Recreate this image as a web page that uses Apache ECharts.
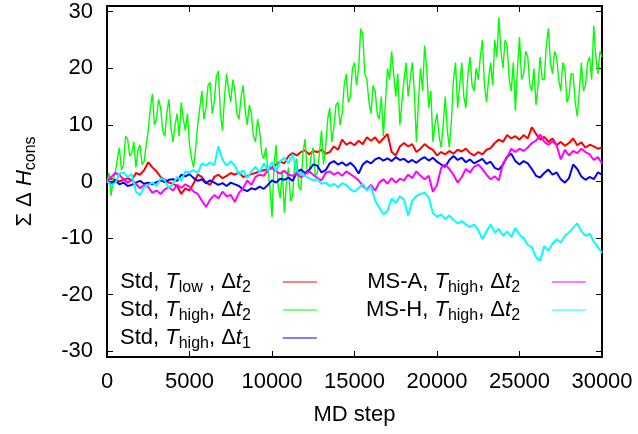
<!DOCTYPE html>
<html>
<head>
<meta charset="utf-8">
<script src="https://cdn.jsdelivr.net/npm/echarts@6/dist/echarts.min.js"></script>
<style>html,body{margin:0;padding:0;background:#fff;}#c{width:638px;height:434px;}</style>
</head>
<body>
<div id="c"></div>
<script>
// MD step grids
const steps = [];
for (let s = 0; s <= 30000; s += 250) steps.push(s);
const greenSteps = [];
for (let s = 0; s <= 30000; s += 125) greenSteps.push(s);

const xTicks = [0, 5000, 10000, 15000, 20000, 25000, 30000];
const yTicks = [-30, -20, -10, 0, 10, 20, 30];

// Std, T_low, dt2 (red)
const stdLow2 = [0,0.5,0.3,0,0.3,0.6,0.2,1.5,1.2,2,3.4,2.5,1.8,0.8,0.3,-0.2,-0.4,-0.8,-2.2,-1.2,-1.6,-0.3,1.2,0.8,-0.2,-0.6,0.8,1.2,0.6,1.0,1.5,1.2,1.6,0.8,1,1.3,1.5,1.8,2,2.2,2.5,3,3.5,3.2,4.5,5,4.6,5.2,5.5,4.8,5.4,5.2,5.6,4.9,5.2,6.2,5.6,7.4,6.5,6.9,6.4,7.2,6.6,7.8,7.2,7.8,6.8,7.6,8.4,5.2,4.6,6.2,6.8,6.2,6.6,5.2,5.8,6.6,6.0,5.6,4.6,5.2,4.8,5.4,4.9,5.6,5.3,5.8,5.0,4.6,5.2,4.8,5.6,5.9,6.8,7.4,7.0,8.2,7.6,8.0,7.4,8.2,7.6,9.6,8.4,7.4,7.9,7.0,7.6,6.4,7.0,6.3,6.8,7.6,6.4,6.9,6.0,6.5,6.2,5.8,6.0];

// Std, T_high, dt2 (green), every 125 steps
const stdHigh2 = [
  0,1.5,-2.5,0.5,1.5,4,6,2,3,8,7.5,4.5,5,7,2.5,5.5,6.5,3,3.5,6.5,9,
  13,15.5,10,11,14.5,13,9,8,12,14.5,9.5,7,10,12,8,14,11,9,12,6.5,
  4,2.5,6,10,13,16,11,13,17,17.5,12,14,18.5,19.5,12,9,15,19,16,14,
  18,16,12,11,15,17,12.5,10,13.5,12,8,7,11,9,5,4,6,2,-1,-6.3,
  3,6.5,-1,-3,2,-5.5,0,2.5,-3.5,-2.5,3,4,-1,-1.5,5,7.5,2,1.5,4.5,6,
  1,1.5,5,9,3,6,11,13,7,9.5,13.5,14,10,12,17,19,14,15,20,21,
  17,20,27,26,19,18,14,12,17,16,12,11,15,8,14,20,18,23,19,15,
  19,10,14,18,21,15,18,21,16,7,14,20,16,24,20,13,16,7,10,12,
  8,6,10,15,9,6,11,18,21,13,17,21,15,13,19,22,17,16,20,18,
  22,25,17,14,18,21,17,25,22,29,23,20,25,24,18,16,21,12.5,20,25.5,
  18,19,23,22,17,16,20,13.5,17,22,18,18,24,27,21,19,23,22,18,16,
  21,20,14,15,19,19,14,11.5,16,21,16,17,21,22,18,27.5,22,19,23,22
];

// Std, T_high, dt1 (blue)
const stdHigh1 = [0,-0.4,0.2,-0.5,-0.2,-0.8,-0.6,-0.2,0.1,-0.4,-0.2,-0.5,-0.1,0.2,-0.1,0.3,0.4,0.1,1.2,0.9,1.3,0.6,0.1,0.4,-0.3,0.2,-0.2,-0.6,-0.3,-0.8,-0.2,-0.5,-0.8,-1.4,-1.7,-1.2,-1.4,-0.9,-1.3,-0.6,0.2,-0.2,0.5,0.3,0.7,0.1,1.6,2.1,1.5,2.0,3.0,2.8,1.6,2.0,3.2,3.6,3.0,3.4,2.8,3.3,2.6,1.4,3.0,3.6,3.2,3.9,4.2,3.7,4.1,3.6,4.3,3.8,4.0,3.4,3.8,3.3,3.9,4.3,3.7,4.2,3.5,3.0,2.6,3.8,4.5,3.8,4.2,3.4,3.9,3.2,3.6,4.0,3.1,3.5,2.4,2.1,3.0,4.4,4.9,3.6,3.0,3.6,3.2,2.2,1.0,0.7,1.5,2.1,1.2,1.6,0.4,-0.2,0.6,3.0,2.2,0.9,0.3,0.8,0.4,1.6,1.2];

// MS-A, T_high, dt2 (magenta)
const msA = [0,0.8,1.5,1.2,0.4,-0.2,0.3,-0.4,-1.2,-0.6,-1.0,-2.0,-1.6,-2.2,-1.4,-1.0,-1.6,-0.6,-1.1,-0.5,-0.9,-1.8,-2.2,-3.4,-4.5,-3.2,-2.4,-3.0,-1.8,-2.6,-2.4,-3.6,-2.0,-1.2,0.2,-0.6,0.8,1.2,1.0,2.0,2.4,1.8,1.4,1.9,1.2,1.0,1.4,0.7,1.3,1.8,1.2,0.6,0.2,1.5,1.8,1.2,1.6,1.0,1.8,1.3,0.8,0.2,-0.8,-1.4,-0.6,-1.6,-0.2,0.4,-0.4,0.6,-0.2,0.5,0.2,1.2,0.6,1.8,1.0,0.4,1.0,-1.8,-0.6,2.4,3.0,2.2,1.2,-0.2,0.8,2.2,1.6,2.6,3.0,2.2,1.2,0.4,0.9,0.2,3.2,4.2,5.8,5.2,5.8,5.4,6.0,6.8,7.2,8.3,7.0,6.5,7.1,6.4,3.9,5.6,4.6,5.4,5.0,5.8,5.2,4.8,3.8,4.3,3.2];

// MS-H, T_high, dt2 (cyan)
const msH = [0,-0.6,-0.3,1.4,1.6,0.8,1.3,-1.8,-2.4,-1.0,-0.6,-0.2,-0.8,0.6,0.2,-1.2,-0.4,0.8,0.2,1.8,1.6,2.0,1.5,3.2,2.8,3.4,2.9,6.2,3.8,2.8,3.6,2.8,1.2,2.0,0.6,1.8,2.6,1.6,3.2,2.0,3.4,1.8,3.6,4.2,3.2,4.8,1.8,1.2,1.0,0.6,0.2,0.4,-0.4,-0.2,-0.8,-0.4,-1.0,-0.3,-0.6,-1.4,-1.8,-1.2,-0.4,-1.6,-0.8,-3.4,-4.6,-5.8,-5.2,-3.0,-3.8,-2.6,-3.2,-6.0,-3.4,-2.6,-2.2,-2.0,-2.8,-5.6,-6.2,-5.8,-6.6,-6.0,-6.8,-7.4,-7.0,-7.6,-8.0,-7.6,-8.6,-10.2,-8.8,-7.6,-9.0,-8.4,-9.6,-8.8,-9.8,-8.2,-9.4,-10.0,-11.2,-11.6,-13.4,-14.0,-11.4,-12.2,-11.0,-10.2,-10.8,-9.6,-9.0,-8.2,-7.4,-8.8,-9.6,-9.2,-10.6,-11.6,-12.6];

const FONT = 'Liberation Sans, Arial, Helvetica, sans-serif';
const rich = {
  n: { fontSize: 22, fontFamily: FONT, color: '#000', lineHeight: 28 },
  i: { fontSize: 22, fontFamily: FONT, color: '#000', fontStyle: 'italic', lineHeight: 28 },
  s: { fontSize: 16, fontFamily: FONT, color: '#000', lineHeight: 16, padding: [12, 0, 0, 0] }
};

const names = {
  low2: '{n|Std, }{i|T}{s|low}{n| , Δ}{i|t}{s|2}',
  high2: '{n|Std, }{i|T}{s|high}{n|, Δ}{i|t}{s|2}',
  high1: '{n|Std, }{i|T}{s|high}{n|, Δ}{i|t}{s|1}',
  msa: '{n|MS-A, }{i|T}{s|high}{n|, Δ}{i|t}{s|2}',
  msh: '{n|MS-H, }{i|T}{s|high}{n|, Δ}{i|t}{s|2}'
};

function pts(xs, vals) { return xs.map((s, k) => [s, vals[k]]); }

function mkSeries(name, xs, vals, color, w) {
  return {
    name: name, type: 'line', data: pts(xs, vals), showSymbol: false, symbol: 'none',
    lineStyle: { color: color, width: w }, itemStyle: { color: color },
    animation: false, silent: true
  };
}

const axisLineStyle = { show: true, onZero: false, lineStyle: { color: '#000', width: 2 } };
const tickStyle = { show: true, inside: true, length: 6, lineStyle: { color: '#000', width: 1 } };

const chart = echarts.init(document.getElementById('c'), null, { renderer: 'canvas' });
chart.setOption({
  backgroundColor: '#fff',
  animation: false,
  grid: { left: 107, right: 36, top: 6, bottom: 77, containLabel: false },
  xAxis: [{
    type: 'value', min: xTicks[0], max: xTicks[xTicks.length - 1], interval: 5000, position: 'bottom',
    axisLine: axisLineStyle, axisTick: tickStyle, splitLine: { show: false },
    axisLabel: { fontSize: 22, fontFamily: FONT, color: '#000', margin: 14, formatter: v => String(v) },
    name: 'MD step', nameLocation: 'middle', nameGap: 47,
    nameTextStyle: { fontSize: 22, fontFamily: FONT, color: '#000' }
  }, {
    type: 'value', min: xTicks[0], max: xTicks[xTicks.length - 1], interval: 5000, position: 'top',
    axisLine: axisLineStyle, axisTick: tickStyle, splitLine: { show: false }, axisLabel: { show: false }
  }],
  yAxis: [{
    type: 'value', min: -31, max: 31, position: 'left',
    axisLine: axisLineStyle, axisTick: tickStyle, splitLine: { show: false },
    axisLabel: {
      fontSize: 22, fontFamily: FONT, color: '#000', margin: 14, showMinLabel: false, showMaxLabel: false,
      formatter: v => (yTicks.indexOf(v) >= 0 ? String(v) : '')
    },
    name: '{n|Σ Δ }{i|H}{s|cons}', nameLocation: 'middle', nameGap: 68,
    nameTextStyle: { rich: rich }
  }, {
    type: 'value', min: -31, max: 31, position: 'right',
    axisLine: axisLineStyle, axisTick: tickStyle, splitLine: { show: false }, axisLabel: { show: false }
  }],
  legend: [{
    data: [names.low2, names.high2, names.high1],
    orient: 'vertical', left: 120, top: 268, padding: 0, itemGap: 0,
    align: 'right', icon: 'rect', itemWidth: 34, itemHeight: 1,
    selectedMode: false,
    textStyle: { rich: rich, padding: [0, 27, 0, 0] }
  }, {
    data: [names.msa, names.msh],
    orient: 'vertical', left: 366, top: 268, padding: 0, itemGap: 0,
    align: 'right', icon: 'rect', itemWidth: 34, itemHeight: 1,
    selectedMode: false,
    textStyle: { rich: rich, padding: [0, 27, 0, 0] }
  }],
  series: [
    mkSeries(names.low2, steps, stdLow2, '#ff0000', 2),
    mkSeries(names.high2, greenSteps, stdHigh2, '#00ff00', 1.4),
    mkSeries(names.high1, steps, stdHigh1, '#0000ff', 2),
    mkSeries(names.msa, steps, msA, '#ff00ff', 2),
    mkSeries(names.msh, steps, msH, '#00ffff', 2)
  ]
});
</script>
</body>
</html>
